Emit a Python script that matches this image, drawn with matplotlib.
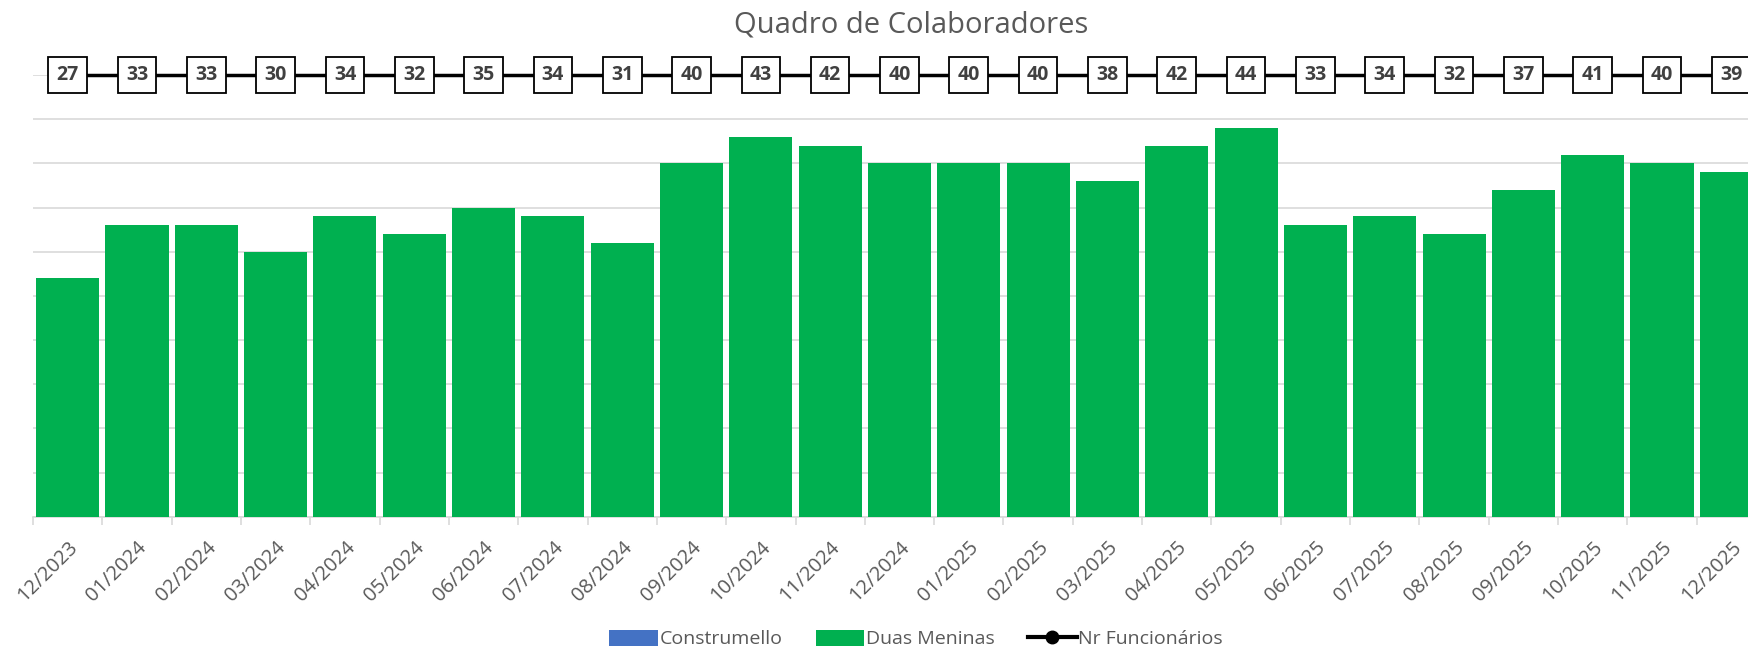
import matplotlib
matplotlib.use("Agg")
import matplotlib.pyplot as plt
from matplotlib.patches import Patch
from matplotlib.lines import Line2D

months = ["12/2023", "01/2024", "02/2024", "03/2024", "04/2024", "05/2024", "06/2024",
          "07/2024", "08/2024", "09/2024", "10/2024", "11/2024", "12/2024", "01/2025",
          "02/2025", "03/2025", "04/2025", "05/2025", "06/2025", "07/2025", "08/2025",
          "09/2025", "10/2025", "11/2025", "12/2025"]
construmello = [0] * len(months)
duas_meninas = [27, 33, 33, 30, 34, 32, 35, 34, 31, 40, 43, 42, 40, 40, 40, 38, 42, 44,
                33, 34, 32, 37, 41, 40, 39]
nr_funcionarios = [27, 33, 33, 30, 34, 32, 35, 34, 31, 40, 43, 42, 40, 40, 40, 38, 42, 44,
                   33, 34, 32, 37, 41, 40, 39]
LINE_LEVEL = 50

plt.rcParams['font.family'] = ['Open Sans', 'DejaVu Sans']

W, H = 1749, 650
fig = plt.figure(figsize=(W / 100, H / 100), dpi=100)
ax_left, ax_right = 33, 1766
ax_bottom, ax_top = 516.7, 75
ax = fig.add_axes([ax_left / W, (H - ax_bottom) / H, (ax_right - ax_left) / W, (ax_bottom - ax_top) / H])

x = list(range(len(months)))
ax.bar(x, construmello, width=0.91, color='#4472C4', zorder=2)
ax.bar(x, duas_meninas, width=0.91, bottom=construmello, color='#00B050', zorder=2)
ax.plot(x, [LINE_LEVEL] * len(x), color='black', lw=2.5, marker='o', ms=8, zorder=3, clip_on=False)
for xi, v in zip(x, nr_funcionarios):
    ax.text(xi, LINE_LEVEL, str(v), ha='center', va='center', fontsize=14, fontweight='bold',
            color='#404040', zorder=5, clip_on=False,
            bbox=dict(boxstyle='square,pad=0.42', fc='white', ec='black', lw=1.3))

ax.set_xlim(-0.5, len(months) - 0.5)
ax.set_ylim(0, 50)
ax.set_yticks(range(0, 51, 5))
ax.yaxis.grid(True, color='#D9D9D9', lw=1.2, zorder=0)
ax.set_axisbelow(True)
ax.tick_params(axis='y', left=False, labelleft=False)
for s in ['top', 'right', 'left']:
    ax.spines[s].set_visible(False)
ax.spines['bottom'].set_color('#D9D9D9')
ax.spines['bottom'].set_linewidth(1.2)
ax.spines['bottom'].set_zorder(1)

ax.set_xticks([i - 0.5 for i in range(len(months) + 1)])
ax.set_xticklabels([])
ax.tick_params(axis='x', which='major', length=6, color='#D9D9D9', width=1.2)
ax.set_xticks(x, minor=True)
ax.set_xticklabels(months, minor=True, rotation=45, ha='right', va='top',
                   rotation_mode='anchor', fontsize=14.5, color='#595959')
ax.tick_params(axis='x', which='minor', length=0, pad=15)

fig.text(911 / W, 1 - 25 / H, "Quadro de Colaboradores", ha='center', va='center',
         fontsize=21, color='#595959')

handles = [Patch(facecolor='#4472C4', label='Construmello'),
           Patch(facecolor='#00B050', label='Duas Meninas'),
           Line2D([0], [0], color='black', lw=3, marker='o', ms=9, label='Nr Funcionários')]
fig.legend(handles=handles, loc='center', bbox_to_anchor=(916 / W, 1 - 639 / H), ncol=3,
           frameon=False, fontsize=14, labelcolor='#595959', handlelength=2.5,
           handleheight=0.9, handletextpad=0.1, columnspacing=1.7)

fig.savefig('out.png', dpi=100, facecolor='white')
